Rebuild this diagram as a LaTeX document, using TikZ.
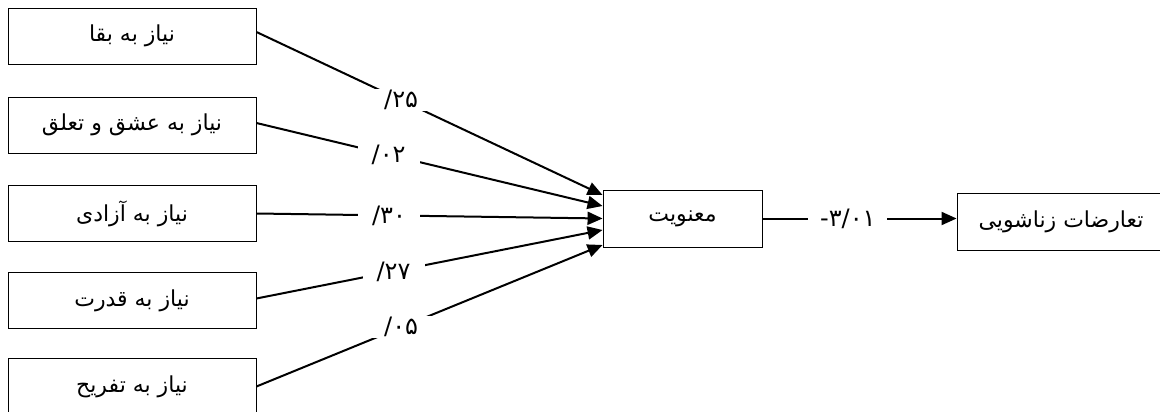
\documentclass[tikz,border=0pt]{standalone}
\usepackage{fontspec}
\usetikzlibrary{arrows.meta,calc}
\TeXXeTstate=1
\newfontfamily\arabicfont[Script=Arabic]{DejaVu Sans}
\tikzset{
  box/.style={draw=black, line width=0.9pt, fill=white, inner sep=0pt,
    font=\arabicfont\fontsize{22}{24}\selectfont},
  inbox/.style={box, minimum width=248pt, minimum height=56pt},
  link/.style={line width=2pt, -{Triangle[length=15pt,width=13pt]}},
  coef/.style={fill=white, inner sep=0pt, minimum width=62pt, minimum height=22pt,
    font=\arabicfont\fontsize{24}{26}\selectfont}
}
\begin{document}
\begin{tikzpicture}[x=1pt, y=-1pt]
  \useasboundingbox (0,0) rectangle (1160,412);

  % predictor boxes on the left
  \node[inbox] (b1) at (132,36)    {\beginR نیاز به بقا\endR};
  \node[inbox] (b2) at (132,125)   {\beginR نیاز به عشق و تعلق\endR};
  \node[inbox] (b3) at (132,213.5) {\beginR نیاز به آزادی\endR};
  \node[inbox] (b4) at (132,300.5) {\beginR نیاز به قدرت\endR};
  \node[inbox] (b5) at (132,386.5) {\beginR نیاز به تفریح\endR};

  % mediator and outcome
  \node[box, minimum width=159pt, minimum height=57pt] (m) at (682.5,218.5) {\beginR معنویت\endR};
  \node[box, minimum width=208pt, minimum height=57pt] (o) at (1061,221.5) {\beginR تعارضات زناشویی\endR};

  % paths into the mediator with their coefficients
  \draw[link] ([yshift=4pt]b1.east) -- node[coef, pos=0.418] (c1) {۲۵/} ([yshift=23.5pt]m.west);
  \draw[link] ([yshift=2pt]b2.east) -- node[coef, pos=0.382] (c2) {۰۲/} ([yshift=12.5pt]m.west);
  \draw[link] (b3.east) -- node[coef, pos=0.383] (c3) {۳۰/} (m.west);
  \draw[link] ([yshift=2pt]b4.east) -- node[coef, pos=0.396] (c4) {۲۷/} ([yshift=-11.5pt]m.west);
  \draw[link] (b5.east) -- node[coef, pos=0.418] (c5) {۰۵/} ([yshift=-26.5pt]m.west);

  % path from the mediator to the outcome
  \draw[link] (m.east) -- node[coef, pos=0.44, minimum width=79pt] (c6) {۳/۰۱-} (m.east -| o.west);
\end{tikzpicture}
\end{document}
